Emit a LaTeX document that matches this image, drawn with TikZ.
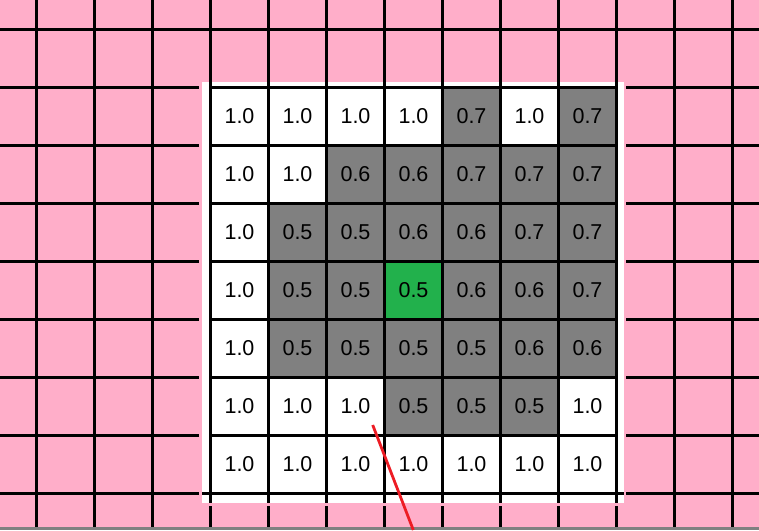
\documentclass[tikz,border=0pt]{standalone}
\usepackage{fontspec}
\setmainfont{Liberation Sans}
\definecolor{bgpink}{HTML}{FFAEC9}
\definecolor{cellgray}{HTML}{808080}
\definecolor{cellgreen}{HTML}{22B14C}
\definecolor{linered}{HTML}{ED1C24}
\begin{document}
\begin{tikzpicture}[x=1pt,y=-1pt,
  gridline/.style={line width=3.2pt,black},
  cellbox/.style={minimum size=58pt,inner sep=0pt,font=\fontsize{21.5}{25}\selectfont,text=black},
  pointer/.style={line width=2.8pt,linered}]
\useasboundingbox (0,0) rectangle (759,530);
\fill[bgpink] (0,0) rectangle (759,530);
% outer grid
\foreach \k in {0,...,12} \draw[gridline] ({36.5+58*\k},0) -- ({36.5+58*\k},527);
\foreach \k in {0,...,8} \draw[gridline] (0,{29.5+58*\k}) -- (759,{29.5+58*\k});
% gap and white frame
\fill[bgpink] (199,82) rectangle (626,506);
\fill[white] (202,82) rectangle (624,503);
% cells
\foreach [count=\r from 0] \rowvals in {
  {1.0/white,1.0/white,1.0/white,1.0/white,0.7/cellgray,1.0/white,0.7/cellgray},
  {1.0/white,1.0/white,0.6/cellgray,0.6/cellgray,0.7/cellgray,0.7/cellgray,0.7/cellgray},
  {1.0/white,0.5/cellgray,0.5/cellgray,0.6/cellgray,0.6/cellgray,0.7/cellgray,0.7/cellgray},
  {1.0/white,0.5/cellgray,0.5/cellgray,0.5/cellgreen,0.6/cellgray,0.6/cellgray,0.7/cellgray},
  {1.0/white,0.5/cellgray,0.5/cellgray,0.5/cellgray,0.5/cellgray,0.6/cellgray,0.6/cellgray},
  {1.0/white,1.0/white,1.0/white,0.5/cellgray,0.5/cellgray,0.5/cellgray,1.0/white},
  {1.0/white,1.0/white,1.0/white,1.0/white,1.0/white,1.0/white,1.0/white}} {
  \foreach [count=\c from 0] \v/\f in \rowvals {
    \node[cellbox,fill=\f] (cell-\r-\c) at ({239.5+58*\c},{116.5+58*\r}) {\v};
  }
}
% inner grid
\foreach \k in {0,...,7} \draw[gridline] ({210.5+58*\k},82) -- ({210.5+58*\k},503);
\foreach \k in {0,...,6} \draw[gridline] (209,{87.5+58*\k}) -- (618,{87.5+58*\k});
\draw[gridline] (202,493.5) -- (624,493.5);
% bottom strip
\fill[cellgray] (0,527) rectangle (759,530);
% red pointer
\coordinate (ptrA) at (372.7,425);
\coordinate (ptrB) at (413.3,530);
\draw[pointer] (ptrA) -- (ptrB);
\end{tikzpicture}
\end{document}
